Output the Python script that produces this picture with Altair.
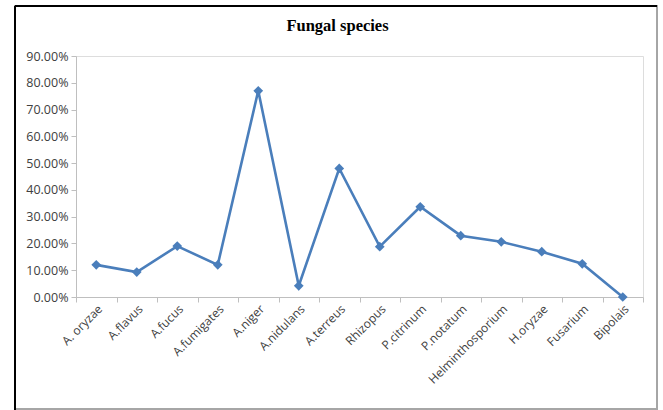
import altair as alt
import pandas as pd

species = ["A. oryzae", "A.flavus", "A.fucus", "A.fumigates", "A.niger", "A.nidulans",
           "A.terreus", "Rhizopus", "P.citrinum", "P.notatum", "Helminthosporium",
           "H.oryzae", "Fusarium", "Bipolais"]
percent = [0.12, 0.093, 0.19, 0.12, 0.77, 0.042, 0.48, 0.188, 0.337, 0.229, 0.206, 0.169, 0.124, 0.0]
y_ticks = [0, 0.1, 0.2, 0.3, 0.4, 0.5, 0.6, 0.7, 0.8, 0.9]

df = pd.DataFrame({"species": species, "percent": percent})

W, H = 567, 241
FONT = "Open Sans"
BLUE = "#4a7ebb"

x = alt.X("species:N", sort=species,
          scale=alt.Scale(paddingInner=0, paddingOuter=0),
          axis=alt.Axis(title=None, labelAngle=-45, tickBand="extent", labelFont=FONT,
                        labelFontSize=12, labelColor="#404040", domainColor="#bfbfbf",
                        tickColor="#bfbfbf", tickSize=5, labelPadding=1))
y = alt.Y("percent:Q", scale=alt.Scale(domain=[0, 0.9], nice=False),
          axis=alt.Axis(title=None, format=".2%", values=y_ticks, grid=False,
                        labelFont=FONT, labelFontSize=12.5, labelColor="#404040",
                        domainColor="#bfbfbf", tickColor="#bfbfbf", tickSize=5,
                        labelPadding=3))

line = alt.Chart(df).mark_line(color=BLUE, strokeWidth=2.6).encode(x=x, y=y)
pts = alt.Chart(df).mark_point(shape="diamond", filled=True, size=95, color=BLUE, opacity=1).encode(x=x, y=y)

border = alt.Chart(df).mark_rect(fill=None, stroke="#a6a6a6", strokeWidth=1.2).encode(
    x=alt.value(-61), x2=alt.value(581), y=alt.value(-50), y2=alt.value(353))
left = alt.Chart(df).mark_rule(color="black", strokeWidth=2).encode(
    x=alt.value(-61), y=alt.value(-50), y2=alt.value(354))
top = alt.Chart(df).mark_rule(color="black", strokeWidth=2).encode(
    x=alt.value(-61), x2=alt.value(581), y=alt.value(-50))

chart = alt.layer(border, left, top, line, pts).properties(
    width=W, height=H,
    padding={"left": 76, "top": 56, "right": 20, "bottom": 113},
    autosize=alt.AutoSizeParams(type="none"),
    title=alt.TitleParams("Fungal species", font="Liberation Serif", fontSize=16.5,
                          fontWeight="bold", color="black", dx=-22, offset=-29),
).configure_view(stroke=None).configure(background="white")

chart.save("out.html", embed_options={"renderer": "svg", "actions": False})
